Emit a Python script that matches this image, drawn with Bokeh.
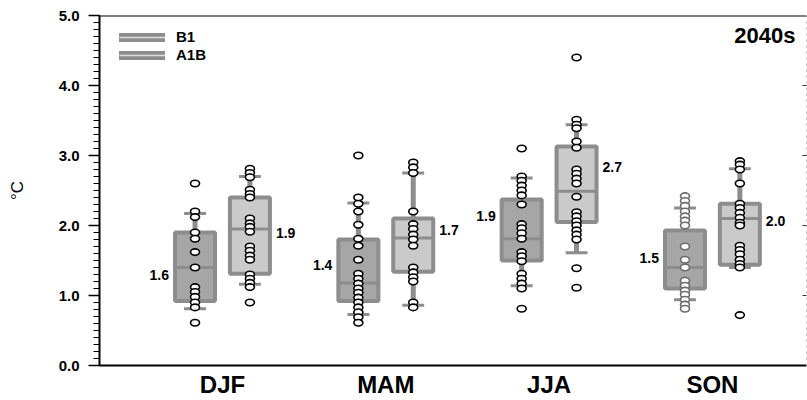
from bokeh.plotting import figure
from bokeh.models import (Range1d, FixedTicker, PrintfTickFormatter, LinearAxis, Span,
                          ColumnDataSource, Legend, LegendItem, Label)
from bokeh.core.properties import value
from bokeh.embed import file_html
from bokeh.resources import INLINE

# ---------------- data ----------------
seasons = ["DJF", "MAM", "JJA", "SON"]
scenarios = ["B1", "A1B"]
period = "2040s"

# box statistics per season (DJF, MAM, JJA, SON)
b1_low = [0.81, 0.73, 1.14, 0.94]
b1_q1 = [0.92, 0.92, 1.50, 1.10]
b1_med = [1.40, 1.18, 1.81, 1.40]
b1_q3 = [1.90, 1.80, 2.37, 1.93]
b1_high = [2.17, 2.32, 2.68, 2.25]

a1b_low = [1.16, 0.86, 1.61, 1.40]
a1b_q1 = [1.31, 1.34, 2.05, 1.44]
a1b_med = [1.95, 1.82, 2.49, 2.10]
a1b_q3 = [2.40, 2.10, 3.13, 2.31]
a1b_high = [2.70, 2.75, 3.44, 2.81]

# mean labels
b1_labels = ["1.6", "1.4", "1.9", "1.5"]
a1b_labels = ["1.9", "1.7", "2.7", "2.0"]
b1_label_y = [1.30, 1.44, 2.14, 1.54]
a1b_label_y = [1.89, 1.93, 2.84, 2.06]

# individual model values
djf_b1 = [2.60, 2.20, 2.12, 1.90, 1.81, 1.62, 1.40, 1.12, 1.05, 0.98, 0.90, 0.83, 0.61]
djf_a1b = [2.81, 2.75, 2.69, 2.51, 2.45, 2.40, 2.10, 2.03, 1.98, 1.91, 1.70, 1.64, 1.57,
           1.51, 1.30, 1.24, 1.18, 1.12, 0.90]
mam_b1 = [3.00, 2.40, 2.31, 2.20, 2.01, 1.81, 1.71, 1.51, 1.31, 1.24, 1.17, 1.10, 1.04,
          0.97, 0.90, 0.83, 0.76, 0.69, 0.61]
mam_a1b = [2.90, 2.83, 2.75, 2.20, 2.02, 1.95, 1.87, 1.80, 1.71, 1.40, 1.33, 1.26, 1.20,
           0.90, 0.83]
jja_b1 = [3.10, 2.70, 2.64, 2.57, 2.50, 2.43, 2.30, 2.02, 1.96, 1.89, 1.81, 1.62, 1.56,
          1.49, 1.31, 1.24, 1.17, 1.10, 0.81]
jja_a1b = [4.40, 3.51, 3.44, 3.39, 3.20, 3.11, 2.80, 2.74, 2.67, 2.60, 2.41, 2.19, 2.13,
           2.06, 2.00, 1.93, 1.87, 1.80, 1.39, 1.11]
son_b1 = [2.42, 2.35, 2.28, 2.20, 2.13, 2.07, 2.00, 1.70, 1.51, 1.40, 1.21, 1.14, 1.07,
          1.01, 0.94, 0.87, 0.81]
son_a1b = [2.92, 2.87, 2.80, 2.60, 2.31, 2.25, 2.18, 2.11, 2.04, 2.00, 1.71, 1.65, 1.59,
           1.51, 1.45, 1.40, 0.72]

b1_points = [djf_b1, mam_b1, jja_b1, son_b1]
a1b_points = [djf_a1b, mam_a1b, jja_a1b, son_a1b]

y_ticks = [0, 1, 2, 3, 4, 5]

# ---------------- styles / layout ----------------
FONT = "Liberation Sans"
BORDER = "#8d8d8d"
B1_FILL = "#a6a6a6"
A1B_FILL = "#cacaca"
OFF = 0.168        # offset of each box from the season centre
BOX_W = 0.245
CAP_HALF = 0.067

p = figure(width=807, height=400, output_backend="svg", toolbar_location=None,
           x_range=Range1d(0.247, 4.576), y_range=Range1d(0, 5),
           min_border_left=99, min_border_right=1, min_border_top=15, min_border_bottom=35)
p.xgrid.visible = False
p.ygrid.visible = False
p.outline_line_color = None
p.background_fill_color = "white"

# axes
xa = p.xaxis[0]
xa.ticker = FixedTicker(ticks=[1, 2, 3, 4])
xa.major_label_overrides = {i + 1: s for i, s in enumerate(seasons)}
xa.major_tick_line_color = None
xa.minor_tick_line_color = None
xa.major_tick_out = 0
xa.major_tick_in = 0
xa.minor_tick_out = 0
xa.minor_tick_in = 0
xa.axis_line_width = 2
xa.axis_line_color = "black"
xa.major_label_text_font = FONT
xa.major_label_text_font_style = "bold"
xa.major_label_text_font_size = "24px"
xa.major_label_text_color = "black"
xa.major_label_standoff = 5

ya = p.yaxis[0]
ya.ticker = FixedTicker(ticks=y_ticks, minor_ticks=[i / 10 for i in range(51)])
ya.formatter = PrintfTickFormatter(format="%.1f")
ya.axis_line_width = 2
ya.axis_line_color = "black"
ya.major_tick_out = 11
ya.major_tick_in = 0
ya.minor_tick_out = 6
ya.minor_tick_in = 0
ya.major_tick_line_width = 1.5
ya.minor_tick_line_width = 1.2
ya.major_tick_line_color = "black"
ya.minor_tick_line_color = "black"
ya.major_label_text_font = FONT
ya.major_label_text_font_style = "bold"
ya.major_label_text_font_size = "15px"
ya.major_label_text_color = "black"
ya.major_label_standoff = 9
ya.axis_label = "°C"
ya.axis_label_text_font = FONT
ya.axis_label_text_font_style = "normal"
ya.axis_label_text_font_size = "17px"
ya.axis_label_text_color = "black"
ya.axis_label_standoff = 29

ra = LinearAxis(ticker=FixedTicker(ticks=[1, 2, 3, 4], minor_ticks=[]),
                axis_line_dash="dotted", axis_line_color="#bbbbbb", axis_line_width=1,
                major_tick_in=4, major_tick_out=0, major_tick_line_color="#333333",
                minor_tick_line_color=None, major_label_text_font_size="0px",
                major_label_standoff=0)
p.add_layout(ra, "right")

p.add_layout(Span(location=5, dimension="width", line_color="black", line_width=2))


def draw_group(offset, low, q1, med, q3, high, fill):
    xs = [i + 1 + offset for i in range(len(seasons))]
    src = ColumnDataSource(dict(x=xs, low=low, q1=q1, med=med, q3=q3, high=high,
                                l=[x - BOX_W / 2 for x in xs], r=[x + BOX_W / 2 for x in xs],
                                cl=[x - CAP_HALF for x in xs], cr=[x + CAP_HALF for x in xs]))
    p.segment("x", "q3", "x", "high", source=src, line_color=BORDER, line_width=5)
    p.segment("x", "low", "x", "q1", source=src, line_color=BORDER, line_width=5)
    p.segment("cl", "high", "cr", "high", source=src, line_color=BORDER, line_width=3)
    p.segment("cl", "low", "cr", "low", source=src, line_color=BORDER, line_width=3)
    p.quad(left="l", right="r", bottom="q1", top="q3", source=src,
           fill_color=fill, line_color=BORDER, line_width=4)
    p.segment("l", "med", "r", "med", source=src, line_color=BORDER, line_width=3)
    return xs


b1_x = draw_group(-OFF, b1_low, b1_q1, b1_med, b1_q3, b1_high, B1_FILL)
a1b_x = draw_group(OFF, a1b_low, a1b_q1, a1b_med, a1b_q3, a1b_high, A1B_FILL)

point_outline = {("B1", 3): "#6a6a6a"}
for scen, xs, groups in (("B1", b1_x, b1_points), ("A1B", a1b_x, a1b_points)):
    for i, vals in enumerate(groups):
        p.ellipse(x=[xs[i]] * len(vals), y=vals, width=9, height=6.5,
                  width_units="screen", height_units="screen",
                  fill_color="white", line_color=point_outline.get((scen, i), "black"),
                  line_width=1.6)

# mean labels
p.text(x=[x - BOX_W / 2 for x in b1_x], y=b1_label_y, text=b1_labels,
       x_offset=-6, text_align="right", text_baseline="middle",
       text_font=value(FONT), text_font_style="bold", text_font_size="14px", text_color="black")
p.text(x=[x + BOX_W / 2 for x in a1b_x], y=a1b_label_y, text=a1b_labels,
       x_offset=6, text_align="left", text_baseline="middle",
       text_font=value(FONT), text_font_style="bold", text_font_size="14px", text_color="black")

# period label
p.add_layout(Label(x=p.x_range.end, y=4.71, x_offset=-11, text=period,
                   text_align="right", text_baseline="middle", text_font=FONT,
                   text_font_style="bold", text_font_size="22px", text_color="black"))

# legend (thick grey line with light centre line)
nan = float("nan")
items = []
for s in scenarios:
    src = ColumnDataSource(dict(x=[nan], y=[nan]))
    r1 = p.line("x", "y", source=src, line_color=BORDER, line_width=9, line_cap="round")
    r2 = p.line("x", "y", source=src, line_color="#dedede", line_width=1.5)
    items.append(LegendItem(label=s, renderers=[r1, r2]))
leg = Legend(items=items, location=(20, 302), margin=0, padding=0, spacing=1,
             glyph_width=46, glyph_height=16, label_standoff=11,
             label_text_font=FONT, label_text_font_style="bold", label_text_font_size="15px",
             label_text_color="black", label_height=16,
             border_line_color=None, background_fill_alpha=0)
p.add_layout(leg, "center")

open("out.html", "w").write(file_html(p, INLINE))
